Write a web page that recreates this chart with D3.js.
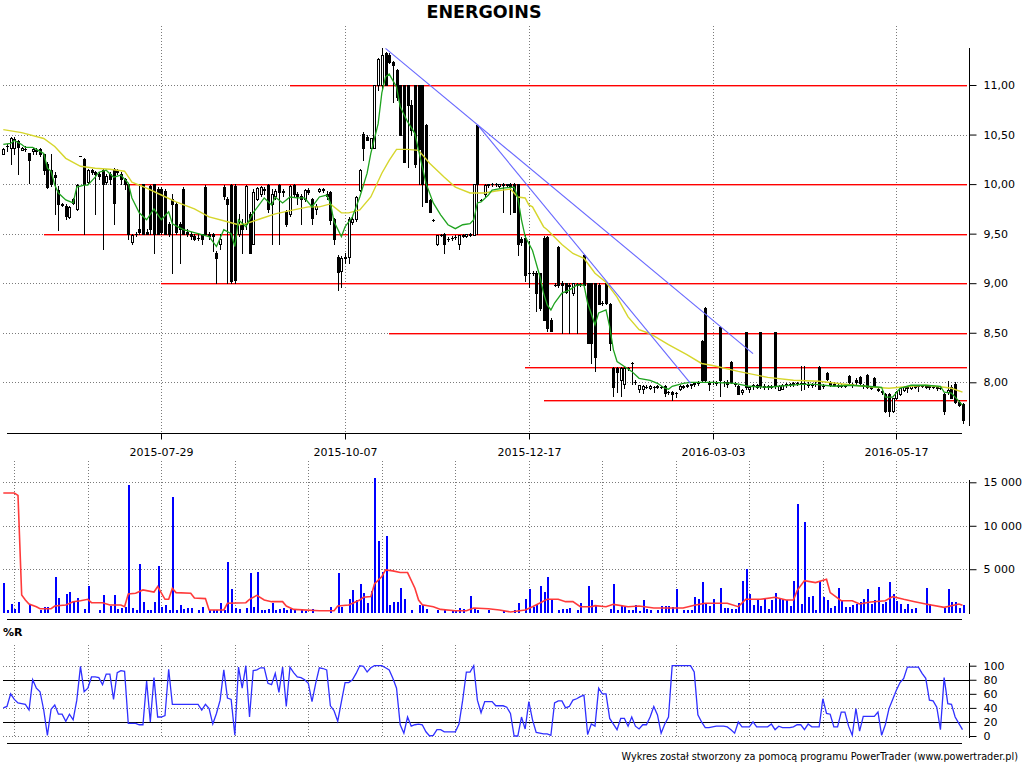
<!DOCTYPE html>
<html><head><meta charset="utf-8">
<script src="https://cdn.jsdelivr.net/npm/d3@7"></script>
<style>body{margin:0;background:#fff}svg{display:block;background:#fff}</style>
</head><body>
<svg id="c" width="1024" height="768"></svg>
<script>
// ---------- DATA ----------
const title = "ENERGOINS";
const footer = "Wykres został stworzony za pomocą programu PowerTrader (www.powertrader.pl)";
const dateTickIdx = [43, 93, 143, 193, 243];
const dateLabels = ["2015-07-29", "2015-10-07", "2015-12-17", "2016-03-03", "2016-05-17"];
const subGridIdx = [3,23,43,63,83,103,123,143,163,183,203,223,243];
const priceTicks = [8.0, 8.5, 9.0, 9.5, 10.0, 10.5, 11.0];
const volTicks = [5000, 10000, 15000];
const wrTicks = [0, 20, 40, 60, 80, 100];
const wrGrid = [0, 40, 60, 100];
const wrLevels = [20, 80];

const open = [
10.30,10.38,10.36,10.36,10.43,10.34,10.35,10.31,10.33,10.34,
10.35,10.30,10.20,10.14,10.09,9.94,9.80,9.78,9.67,9.85,
9.75,10.28,10.25,10.02,10.14,10.12,10.10,10.14,10.02,10.10,
10.15,10.14,10.10,10.05,10.00,9.42,9.50,9.55,10.00,9.52,
9.98,10.00,9.95,9.95,9.93,9.60,9.85,9.80,9.60,9.95,
9.52,9.50,9.48,9.46,9.50,9.97,9.50,9.50,9.30,9.40,
9.97,9.85,9.99,9.98,9.50,9.60,9.60,9.70,9.40,9.85,
9.90,9.95,9.99,9.80,9.88,9.99,9.92,9.72,9.70,9.99,
9.90,9.88,9.85,9.94,9.85,9.75,9.93,9.95,9.90,9.92,
9.65,9.26,9.12,9.25,9.26,9.62,9.65,9.94,10.51,10.48,
10.36,10.36,11.00,11.00,11.32,11.30,11.23,11.15,11.00,11.00,
11.00,10.80,11.00,11.00,11.00,10.60,9.84,9.64,9.40,9.49,
9.50,9.45,9.46,9.47,9.40,9.48,9.48,9.49,9.49,10.60,
9.84,9.90,9.99,10.00,10.00,9.98,10.00,9.99,10.00,10.00,
10.00,9.45,9.46,9.10,9.10,9.10,9.10,9.46,9.47,8.63,
8.98,9.37,9.00,9.00,8.98,8.90,8.98,8.99,9.28,9.00,
9.00,9.00,8.98,8.80,9.00,8.79,8.14,8.14,8.02,7.98,
8.14,8.19,8.00,7.93,7.93,7.95,7.94,7.95,7.96,7.95,
7.96,7.90,7.90,7.89,7.93,7.95,7.96,7.97,7.98,7.99,
8.42,8.75,8.00,8.00,8.00,8.56,8.00,8.00,8.20,7.99,
7.96,7.90,8.51,7.93,7.96,7.97,8.51,7.96,7.95,7.96,
8.51,7.92,7.93,7.97,7.98,7.98,7.99,7.99,7.99,7.98,
7.97,7.98,8.15,7.96,8.09,8.00,7.98,7.97,7.96,7.96,
8.06,7.98,8.02,8.05,7.97,8.07,7.95,8.04,7.93,7.91,
7.88,7.88,7.71,7.84,7.88,7.92,7.94,7.94,7.95,7.96,
7.96,7.95,7.96,7.95,7.95,7.94,7.88,7.90,7.95,7.98,
7.80,7.78];
const high = [
10.36,10.40,10.48,10.48,10.45,10.37,10.38,10.31,10.36,10.36,
10.36,10.30,10.22,10.30,10.12,9.98,9.81,9.80,9.78,9.86,
10.00,10.28,10.26,10.15,10.15,10.13,10.12,10.15,10.10,10.12,
10.16,10.15,10.12,10.06,10.00,9.50,9.52,10.00,10.00,9.55,
9.99,10.00,9.97,9.97,9.95,9.62,9.90,9.82,9.62,9.97,
9.55,9.52,9.50,9.50,9.50,9.99,9.52,9.51,9.32,9.50,
9.99,9.87,10.00,10.00,9.70,9.65,9.99,9.72,9.95,9.97,
9.98,9.97,10.00,9.95,9.95,10.00,9.95,9.74,9.99,10.00,
9.92,9.90,9.95,9.96,9.86,9.80,9.96,9.96,9.93,9.93,
9.66,9.28,9.27,9.30,9.67,9.68,9.88,10.15,10.53,10.50,
10.47,11.00,11.27,11.37,11.33,11.32,11.24,11.16,11.00,11.00,
11.00,10.85,11.00,11.00,11.00,10.61,9.85,9.65,9.49,9.50,
9.51,9.47,9.48,9.49,9.49,9.50,9.50,9.51,10.00,10.60,
9.85,10.00,10.00,10.01,10.01,10.00,10.01,10.00,10.01,10.01,
10.00,9.47,9.49,9.43,9.12,9.12,9.10,9.48,9.48,8.65,
9.00,9.38,9.02,9.00,9.00,9.00,9.00,9.00,9.29,9.00,
9.00,9.00,9.00,8.82,9.00,8.80,8.15,8.15,8.15,8.15,
8.15,8.20,8.02,7.97,7.97,7.97,7.97,7.96,7.97,7.96,
7.97,7.91,7.91,7.90,7.97,7.97,7.98,7.98,8.00,8.01,
8.43,8.76,8.01,8.01,8.01,8.57,8.01,8.02,8.21,8.00,
7.97,7.93,8.51,7.96,7.98,7.98,8.51,7.98,7.97,7.97,
8.51,7.97,7.98,7.99,7.99,8.00,8.00,8.16,8.16,8.00,
7.99,8.00,8.16,7.98,8.10,8.01,8.00,7.98,7.98,7.97,
8.07,7.99,8.04,8.06,7.98,8.08,7.96,8.05,7.94,7.92,
7.89,7.89,7.84,7.91,7.95,7.96,7.96,7.97,7.97,7.97,
7.97,7.97,7.97,7.96,7.96,7.96,7.89,8.01,7.97,8.00,
7.82,7.79];
const low = [
10.30,10.33,10.20,10.30,10.10,10.34,10.33,10.01,10.30,10.30,
10.28,10.10,9.96,9.98,9.70,9.54,9.78,9.65,9.66,9.80,
9.74,10.28,9.50,10.00,10.10,9.70,10.05,9.35,10.00,10.00,
9.60,10.10,10.00,9.95,9.45,9.40,9.48,9.50,9.50,9.50,
9.50,9.30,9.50,9.50,9.50,9.48,9.10,9.50,9.20,9.50,
9.48,9.45,9.44,9.44,9.40,9.50,9.45,9.32,9.00,9.35,
9.85,9.00,9.00,9.00,9.48,9.30,9.55,9.30,9.40,9.84,
9.88,9.90,9.72,9.40,9.85,9.40,9.88,9.58,9.68,9.88,
9.80,9.60,9.83,9.90,9.60,9.70,9.92,9.92,9.85,9.60,
9.40,8.93,8.96,9.20,9.20,9.60,9.63,9.93,10.24,10.44,
10.36,10.36,10.95,10.95,11.00,11.22,10.83,10.85,10.50,10.22,
10.17,10.50,10.17,10.00,9.78,9.82,9.72,9.63,9.39,9.48,
9.30,9.43,9.44,9.45,9.35,9.47,9.47,9.48,9.49,9.50,
9.83,9.88,9.97,9.98,9.98,9.97,9.72,9.98,9.70,9.72,
9.28,9.39,9.02,8.96,9.08,8.72,8.73,8.63,8.52,8.52,
8.97,8.96,8.50,8.90,8.50,8.88,8.50,8.97,8.98,8.40,
8.19,8.11,8.79,8.78,8.79,8.33,7.86,7.90,7.86,7.94,
8.12,7.98,7.98,7.90,7.89,7.94,7.93,7.90,7.94,7.94,
7.86,7.88,7.82,7.85,7.92,7.94,7.95,7.94,7.96,7.97,
8.00,8.00,7.92,7.98,7.97,7.86,7.96,7.95,7.99,7.96,
7.88,7.88,7.93,7.90,7.93,7.94,7.94,7.93,7.93,7.94,
7.94,7.92,7.93,7.95,7.96,7.96,7.97,7.92,7.93,7.95,
7.95,7.96,7.93,7.94,8.02,7.96,7.96,7.95,7.95,7.95,
7.99,7.95,7.97,7.98,7.94,7.94,7.93,7.96,7.91,7.88,
7.70,7.66,7.70,7.83,7.87,7.91,7.90,7.93,7.94,7.91,
7.95,7.94,7.93,7.94,7.92,7.93,7.68,7.88,7.84,7.79,
7.76,7.59];
const close = [
10.35,10.38,10.47,10.46,10.37,10.36,10.35,10.24,10.35,10.33,
10.30,10.14,9.97,10.00,10.07,9.80,9.79,9.68,9.77,9.81,
9.99,10.28,10.00,10.14,10.12,10.10,10.08,10.00,10.08,10.05,
9.81,10.12,10.05,10.00,9.50,9.49,9.50,9.52,9.50,9.50,
9.55,9.50,9.50,9.52,9.50,9.50,9.80,9.52,9.55,9.50,
9.50,9.48,9.45,9.46,9.45,9.50,9.48,9.48,9.25,9.45,
9.88,9.80,9.02,9.03,9.60,9.55,9.98,9.30,9.92,9.96,
9.97,9.94,9.75,9.90,9.93,9.92,9.93,9.60,9.98,9.90,
9.88,9.85,9.94,9.92,9.66,9.78,9.95,9.94,9.88,9.64,
9.45,9.11,9.25,9.26,9.65,9.65,9.87,10.14,10.36,10.45,
10.47,11.00,11.26,11.30,11.00,11.23,11.20,10.88,10.50,10.22,
10.80,10.55,10.20,10.35,10.00,9.82,9.72,9.64,9.49,9.49,
9.40,9.45,9.46,9.47,9.49,9.49,9.50,9.50,10.00,10.00,
9.84,9.99,10.00,10.00,10.00,10.00,9.99,10.00,9.98,9.72,
9.40,9.42,9.08,9.10,9.10,8.90,8.75,8.63,8.55,8.52,
8.98,8.98,8.98,8.91,8.97,9.00,8.99,8.99,8.98,8.40,
8.40,8.26,8.79,8.80,8.80,8.40,7.95,8.10,8.14,8.14,
8.14,8.19,8.00,7.97,7.96,7.95,7.96,7.95,7.95,7.95,
7.89,7.90,7.88,7.89,7.96,7.96,7.97,7.98,7.99,8.00,
8.02,8.02,7.98,8.00,7.99,8.02,8.00,7.98,8.00,7.98,
7.88,7.92,7.95,7.95,7.97,7.95,7.96,7.95,7.96,7.95,
7.96,7.96,7.97,7.98,7.98,7.99,7.99,7.99,7.98,7.97,
7.98,7.98,7.93,7.96,8.03,7.97,7.97,7.96,7.96,7.96,
8.00,7.97,8.00,7.99,7.96,7.95,7.94,7.96,7.92,7.90,
7.71,7.71,7.84,7.90,7.94,7.95,7.95,7.96,7.96,7.96,
7.96,7.96,7.95,7.95,7.94,7.94,7.71,7.92,7.84,7.80,
7.77,7.62];
const volume = [
3460,300,1000,420,1230,0,0,1000,0,0,
300,650,650,0,4120,1690,0,2150,2380,1270,
1690,0,420,3080,0,0,300,2040,0,810,
2040,460,580,690,14730,580,300,5620,1230,300,
300,1230,5380,690,880,300,13270,300,880,420,
580,580,0,300,650,0,300,300,300,1080,
300,5850,2730,580,420,0,580,4540,650,4690,
300,300,420,1150,300,460,500,300,420,300,
0,300,230,0,420,0,0,0,0,650,
0,4540,650,0,1580,2620,1460,3310,2270,1080,
2500,15500,8270,4650,8850,880,1230,1230,2850,1620,
0,300,0,880,880,420,0,0,300,0,
380,0,300,300,500,380,0,1920,540,300,
0,0,300,0,0,0,230,0,0,300,
1080,0,1620,2730,690,880,3080,2380,4120,1460,
0,300,420,420,580,0,300,1080,0,3080,
1460,850,0,0,0,420,3310,300,770,650,
300,300,850,230,1460,420,300,0,300,770,
770,770,690,2770,0,300,300,300,1850,1620,
3540,1000,770,1620,0,2850,580,580,380,460,
1080,3690,5000,2190,880,1540,810,1730,460,1460,
2270,1620,1620,1460,810,3690,12540,1000,10460,1810,
1960,300,3690,1850,1460,540,770,2850,1380,650,
650,850,1000,1230,1580,2730,1000,1460,2960,1000,
1230,3540,2150,1380,1000,420,1000,420,540,0,
0,2850,1000,0,0,0,540,2730,1230,1230,
580,880];
const williamsR = [
40,42,60,52,47,46,45,37,80,68,
63,37,1,38,44,31,31,21,31,23,
51,99,63,68,84,84,83,73,88,88,
52,90,93,92,18,18,18,16,16,78,
20,83,27,27,29,95,45,45,45,45,
45,45,45,45,37,45,39,17,32,51,
94,54,52,1,98,68,100,27,93,94,
97,97,75,73,89,62,98,42,98,90,
84,83,80,75,49,75,97,96,94,43,
36,21,49,76,76,80,89,100,99,91,
97,100,100,100,97,94,82,68,16,4,
27,14,16,17,16,6,0,1,9,9,
6,6,6,6,17,51,91,91,100,51,
33,49,49,49,43,43,43,41,32,0,
0,27,10,49,23,5,4,3,3,1,
47,50,50,40,42,51,53,56,58,2,
17,14,68,60,60,25,17,9,25,25,
14,27,14,10,16,16,27,42,30,4,
17,27,100,100,100,100,100,100,91,30,
20,12,12,13,14,14,14,13,9,4,
20,13,13,13,20,13,13,13,13,17,
9,14,12,12,12,13,16,16,9,17,
13,13,13,53,32,31,13,13,34,34,
14,1,39,7,28,28,28,28,34,1,
16,39,52,65,76,82,98,98,98,98,
89,82,51,50,41,9,83,46,45,27,
18,9];

// short moving average (green), read at these bar positions
const greenIdx = [0,2,3,5,6,8,10,11,12,13,14,15,17,19,20,22,23,25,26,28,30,32,34,35,37,39,41,43,45,46,49,51,54,56,58,60,62,63,64,66,68,71,73,74,76,78,80,82,84,86,88,89,90,92,93,95,97,99,100,102,103,104,105,107,108,110,112,113,115,117,119,121,123,125,127,128,129,130,132,133,136,139,140,141,142,144,146,147,148,149,150,152,154,156,158,159,161,162,164,165,166,167,169,171,173,176,178,180,181,182,185,187,193,199,203,208,211,217,221,226,230,235,239,240,242,244,247,251,255,256,258,259,261];
const greenVal = [10.40,10.41,10.44,10.40,10.37,10.37,10.33,10.31,10.16,10.13,9.99,9.91,9.84,9.81,9.97,9.99,9.99,10.07,10.12,10.14,10.07,10.09,10.01,9.86,9.71,9.64,9.75,9.64,9.72,9.60,9.54,9.52,9.49,9.47,9.37,9.54,9.50,9.37,9.64,9.57,9.71,9.86,9.79,9.87,9.81,9.87,9.86,9.86,9.77,9.87,9.89,9.81,9.62,9.47,9.57,9.67,9.87,10.11,10.31,10.61,10.92,11.08,11.11,10.98,10.78,10.63,10.51,10.34,10.01,9.81,9.69,9.59,9.55,9.59,9.60,9.64,9.81,9.82,9.89,9.94,9.96,9.97,9.86,9.64,9.47,9.33,9.07,8.90,8.78,8.73,8.80,8.90,8.93,8.98,8.98,8.80,8.58,8.70,8.73,8.56,8.33,8.21,8.16,8.11,8.04,8.02,7.99,7.94,7.93,7.96,7.99,8.00,8.00,7.99,7.96,7.95,7.96,7.98,7.98,7.96,7.97,7.96,7.95,7.85,7.85,7.94,7.97,7.97,7.96,7.90,7.89,7.85,7.77];
// long moving average (yellow)
const yellowIdx = [0,5,11,14,17,21,25,29,33,35,39,43,47,52,56,61,64,66,70,74,79,83,86,89,92,94,97,100,103,105,107,110,113,116,120,123,127,131,134,138,140,142,143,144,147,148,152,155,158,161,164,167,170,173,176,181,186,190,193,200,208,215,222,229,237,241,247,251,256,258,261];
const yellowVal = [10.55,10.52,10.46,10.38,10.26,10.18,10.16,10.15,10.13,10.02,9.96,9.89,9.82,9.75,9.67,9.62,9.59,9.60,9.65,9.70,9.74,9.77,9.77,9.80,9.71,9.71,9.74,9.87,10.11,10.24,10.35,10.35,10.34,10.21,10.07,9.97,9.91,9.91,9.93,9.95,9.87,9.86,9.79,9.77,9.57,9.54,9.39,9.30,9.25,9.10,9.01,8.86,8.66,8.53,8.49,8.38,8.28,8.19,8.17,8.11,8.05,8.02,8.01,7.98,7.95,7.94,7.96,7.97,7.95,7.94,7.90];
// volume moving average (red)
const volMaIdx = [0,3,4,5,6,7,9,10,13,14,17,19,21,23,24,27,29,32,33,34,36,38,41,42,44,45,46,47,51,52,55,56,60,61,66,67,69,71,73,76,77,79,86,90,91,94,97,98,100,101,103,104,106,108,110,112,113,114,117,119,123,126,128,132,135,138,142,144,148,151,153,155,157,160,161,164,166,170,173,177,183,185,188,191,197,200,202,206,210,213,215,216,218,221,224,225,228,231,233,236,240,242,245,248,251,256,258,260,261];
const volMaVal = [13770,13770,13500,2040,1460,1000,690,460,460,770,880,1270,1380,1540,1150,1150,880,880,690,2150,2230,2620,2380,3000,1540,1540,2810,2310,2230,1690,1620,310,310,1080,1150,1540,2000,1460,1270,1270,770,380,230,230,770,880,1460,1770,1850,3310,4150,4920,4810,4620,4620,2810,1460,920,690,380,230,230,540,460,310,80,310,690,1540,1540,1270,1270,690,690,810,690,960,690,770,540,540,540,850,1080,1080,690,1540,1540,1770,1460,1460,2540,3690,3460,3850,2310,1380,1380,1000,1230,1380,1850,1540,1270,1000,620,810,1000,850];

// user-drawn support/resistance levels and trend lines
const levelPrice = [11.00, 10.00, 9.50, 9.00, 8.50, 8.15, 7.82];
const levelStart = [78, 33, 11, 43, 105, 142, 147];
const trend1 = [[104, 11.37], [204, 8.29]];
const trend2 = [[129, 10.60], [187, 7.99]];

// ---------- DRAWING ----------
const svg = d3.select("#c");
const N = close.length;
const FONT = "DejaVu Sans";
const x = d3.scaleLinear().domain([0, N - 1]).range([3.3, 962.5]);
const px = i => Math.round(x(i));
const yP = d3.scaleLinear().domain([8, 11]).range([382.3, 85]);
const yV = d3.scaleLinear().domain([0, 15000]).range([612.7, 482.3]);
const yR = d3.scaleLinear().domain([0, 100]).range([736, 665.7]);
const AX = 969.5;
const gridC = "#7a7a7a";
const snap = v => Math.round(v) + 0.5;

function hGrid(vals, scale, x1, x2) {
  svg.append("g").selectAll("line").data(vals).join("line")
    .attr("x1", x1).attr("x2", x2)
    .attr("y1", d => snap(scale(d))).attr("y2", d => snap(scale(d)))
    .attr("stroke", gridC).attr("stroke-dasharray", "1,2").attr("shape-rendering", "crispEdges");
}
function vGrid(idx, y1, y2) {
  svg.append("g").selectAll("line").data(idx).join("line")
    .attr("x1", d => px(d) + 0.5).attr("x2", d => px(d) + 0.5)
    .attr("y1", y1).attr("y2", y2)
    .attr("stroke", gridC).attr("stroke-dasharray", "1,2").attr("shape-rendering", "crispEdges");
}

// title
svg.append("text").attr("x", 484).attr("y", 18).attr("text-anchor", "middle")
  .attr("font-family", FONT).attr("font-weight", "bold").attr("font-size", 17.5).text(title);

// ===== main price panel =====
hGrid(priceTicks, yP, 3, AX);
vGrid(dateTickIdx, 26, 433);

// support / resistance levels
const lv = svg.append("g").attr("shape-rendering", "crispEdges");
lv.selectAll("line.a").data(levelPrice).join("line").attr("class", "a")
  .attr("x1", (d, i) => px(levelStart[i])).attr("x2", 967)
  .attr("y1", d => snap(yP(d))).attr("y2", d => snap(yP(d)))
  .attr("stroke", "#ff0000");
lv.selectAll("line.b").data(levelPrice).join("line").attr("class", "b")
  .attr("x1", (d, i) => px(levelStart[i])).attr("x2", 967)
  .attr("y1", d => snap(yP(d)) + 1).attr("y2", d => snap(yP(d)) + 1)
  .attr("stroke", "#ff9a9a");

// OHLC bars
const bars = d3.range(N).map(i => ({i, o: open[i], h: high[i], l: low[i], c: close[i]}));
const bg = svg.append("g").attr("shape-rendering", "crispEdges");
bg.selectAll("line.w").data(bars).join("line").attr("class", "w")
  .attr("x1", d => px(d.i) + 0.5).attr("x2", d => px(d.i) + 0.5)
  .attr("y1", d => Math.round(yP(d.h))).attr("y2", d => Math.round(yP(d.l)) + 1)
  .attr("stroke", "#000");
const boxTop = d => Math.round(yP(Math.max(d.o, d.c)));
const boxBot = d => Math.round(yP(Math.min(d.o, d.c)));
bg.selectAll("line.dj").data(bars.filter(d => boxBot(d) - boxTop(d) < 1)).join("line").attr("class", "dj")
  .attr("x1", d => px(d.i) - 1).attr("x2", d => px(d.i) + 2)
  .attr("y1", d => boxTop(d) + 0.5).attr("y2", d => boxTop(d) + 0.5)
  .attr("stroke", "#000");
bg.selectAll("rect.up").data(bars.filter(d => boxBot(d) - boxTop(d) >= 1 && d.c > d.o)).join("rect").attr("class", "up")
  .attr("x", d => px(d.i) - 0.5).attr("width", 2)
  .attr("y", d => boxTop(d) + 0.5).attr("height", d => boxBot(d) - boxTop(d))
  .attr("fill", "#fff").attr("stroke", "#000");
bg.selectAll("rect.dn").data(bars.filter(d => boxBot(d) - boxTop(d) >= 1 && d.c <= d.o)).join("rect").attr("class", "dn")
  .attr("x", d => px(d.i) - 1).attr("width", 3)
  .attr("y", d => boxTop(d)).attr("height", d => boxBot(d) - boxTop(d) + 1)
  .attr("fill", "#000");

// moving averages
const lineP = d3.line().x(d => x(d[0])).y(d => yP(d[1]));
svg.append("path").datum(yellowIdx.map((k, j) => [k, yellowVal[j]]))
  .attr("d", lineP).attr("fill", "none").attr("stroke", "#d6d62c").attr("stroke-width", 1.4);
svg.append("path").datum(greenIdx.map((k, j) => [k, greenVal[j]]))
  .attr("d", lineP).attr("fill", "none").attr("stroke", "#1fa31f").attr("stroke-width", 1.3);

// trend lines
svg.append("g").selectAll("path").data([trend1, trend2]).join("path")
  .attr("d", lineP).attr("fill", "none").attr("stroke", "#6868ff").attr("stroke-width", 1.1);

// price axis
const fmtP = d => d.toFixed(2).replace(".", ",");
svg.append("line").attr("x1", AX).attr("x2", AX).attr("y1", 48).attr("y2", 426).attr("stroke", "#000");
svg.append("g").attr("transform", `translate(${AX},0)`)
  .call(d3.axisRight(yP).tickValues(priceTicks).tickSize(7).tickPadding(7).tickFormat(fmtP))
  .call(g => g.select(".domain").remove())
  .attr("font-family", FONT).attr("font-size", 11);
// date axis
svg.append("line").attr("x1", 7).attr("x2", 962).attr("y1", 433.5).attr("y2", 433.5).attr("stroke", "#000");
svg.append("g").attr("transform", "translate(0,433.5)")
  .call(d3.axisBottom(x).tickValues(dateTickIdx).tickSize(6).tickPadding(9).tickFormat((d, i) => dateLabels[i]))
  .call(g => g.select(".domain").remove())
  .call(g => g.selectAll(".tick").attr("transform", d => `translate(${px(d) + 0.5},0)`))
  .attr("font-family", FONT).attr("font-size", 11);

// ===== volume panel =====
hGrid(volTicks, yV, 3, AX);
vGrid(subGridIdx, 461, 613);
svg.append("g").attr("shape-rendering", "crispEdges").selectAll("rect")
  .data(volume.map((v, i) => ({i, v})).filter(d => d.v > 0)).join("rect")
  .attr("x", d => px(d.i) - 0.5).attr("width", 2)
  .attr("y", d => Math.round(yV(d.v))).attr("height", d => Math.round(yV(0)) - Math.round(yV(d.v)))
  .attr("fill", "#0000ff");
const lineV = d3.line().x(d => x(d[0])).y(d => yV(d[1]));
svg.append("path").datum(volMaIdx.map((k, j) => [k, volMaVal[j]]))
  .attr("d", lineV).attr("fill", "none").attr("stroke", "#ff3a3a").attr("stroke-width", 1.6);
const fmtV = d3.formatLocale({decimal: ",", thousands: " ", grouping: [3], currency: ["", ""]}).format(",d");
svg.append("line").attr("x1", AX).attr("x2", AX).attr("y1", 480).attr("y2", 614).attr("stroke", "#000");
svg.append("g").attr("transform", `translate(${AX},0)`)
  .call(d3.axisRight(yV).tickValues(volTicks).tickSize(7).tickPadding(7).tickFormat(fmtV))
  .call(g => g.select(".domain").remove())
  .attr("font-family", FONT).attr("font-size", 11);
svg.append("line").attr("x1", 7).attr("x2", 962).attr("y1", 619.5).attr("y2", 619.5).attr("stroke", "#000");

// ===== Williams %R panel =====
svg.append("text").attr("x", 3).attr("y", 636).attr("font-family", FONT).attr("font-weight", "bold")
  .attr("font-size", 11).text("%R");
hGrid(wrGrid, yR, 3, AX);
vGrid(subGridIdx, 645, 738);
svg.append("g").selectAll("line").data(wrLevels).join("line")
  .attr("x1", 3).attr("x2", AX).attr("y1", d => snap(yR(d))).attr("y2", d => snap(yR(d)))
  .attr("stroke", "#000").attr("shape-rendering", "crispEdges");
const lineR = d3.line().x((d, i) => x(i)).y(d => yR(d));
svg.append("path").datum(williamsR).attr("d", lineR).attr("fill", "none")
  .attr("stroke", "#2f2fff").attr("stroke-width", 1.3);
svg.append("line").attr("x1", AX).attr("x2", AX).attr("y1", 663).attr("y2", 738).attr("stroke", "#000");
svg.append("g").attr("transform", `translate(${AX},0)`)
  .call(d3.axisRight(yR).tickValues(wrTicks).tickSize(7).tickPadding(7))
  .call(g => g.select(".domain").remove())
  .attr("font-family", FONT).attr("font-size", 11);
svg.append("line").attr("x1", 7).attr("x2", 962).attr("y1", 743.5).attr("y2", 743.5).attr("stroke", "#000");

// footer
const ft = svg.append("text").attr("x", 1018).attr("y", 760).attr("text-anchor", "end")
  .attr("font-family", FONT).attr("font-size", 11).attr("fill", "#000").text(footer);
const fw = ft.node().getComputedTextLength();
if (fw > 0) ft.attr("font-size", 11 * 397 / fw);
</script>
</body></html>
